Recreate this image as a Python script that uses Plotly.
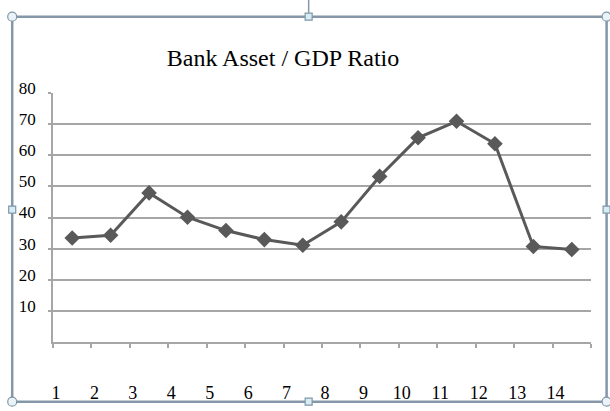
import plotly.graph_objects as go

# ---- data ----
periods = list(range(1, 15))
ratio = [33.4, 34.3, 47.9, 40.1, 35.8, 32.9, 31.1, 38.6, 53.2, 65.6, 70.9, 63.7, 30.7, 29.7]
x_labels = [str(p) for p in periods]
y_ticks = [10, 20, 30, 40, 50, 60, 70, 80]
title_text = "Bank Asset / GDP Ratio"

W, H = 610, 411
L, R, T, B = 53.3, 591.4, 93.3, 342.3

def px(x):
    return (x - L) / (R - L)

def py(y):
    return (B - y) / (B - T)

fig = go.Figure()
fig.add_trace(go.Scatter(
    x=periods, y=ratio, mode="lines+markers",
    line=dict(color="#595959", width=3),
    marker=dict(symbol="diamond", size=12, color="#595959"),
    showlegend=False, hoverinfo="skip",
))

serif = "Times New Roman"

fig.update_layout(
    width=W, height=H,
    font=dict(family=serif, color="black"),
    margin=dict(l=L, r=W - R, t=T, b=H - B, pad=0, autoexpand=False),
    paper_bgcolor="white", plot_bgcolor="white",
    title=dict(text=title_text, font=dict(family=serif, size=24, color="black"),
               xref="container", yref="container", x=283 / W, y=1 - 58 / H,
               xanchor="center", yanchor="middle"),
    xaxis=dict(
        range=[0.5, 14.5], automargin=False,
        tickmode="array",
        tickvals=[p - 0.5 for p in periods] + [14.5],
        ticktext=x_labels + [""],
        ticks="outside", ticklen=4, tickcolor="#a6a6a6", tickwidth=1.5,
        showline=True, linecolor="#a6a6a6", linewidth=1.5,
        showgrid=False, zeroline=False,
        tickfont=dict(family=serif, size=18, color="black"),
        ticklabelstandoff=30, ticklabelshift=3,
    ),
    yaxis=dict(
        range=[0, 80], automargin=False,
        tickmode="array", tickvals=y_ticks, ticktext=[str(v) for v in y_ticks],
        ticks="outside", ticklen=3, tickcolor="#a6a6a6", tickwidth=1.5,
        showline=True, linecolor="#a6a6a6", linewidth=1.5,
        showgrid=True, gridcolor="#a6a6a6", gridwidth=1.5,
        zeroline=False,
        tickfont=dict(family=serif, size=17, color="black"),
        ticklabelstandoff=9, ticklabelshift=-5,
    ),
)

# selection frame and handles (decoration)
frame_col = "#8597a8"
x0, x1, y0, y1 = 12.5, 607, 17, 402
shapes = [
    dict(type="rect", xref="paper", yref="paper", x0=px(x0), x1=px(x1), y0=py(y1), y1=py(y0),
         line=dict(color=frame_col, width=2.5), layer="above"),
    dict(type="line", xref="paper", yref="paper", x0=px(309), x1=px(309), y0=py(0), y1=py(13),
         line=dict(color=frame_col, width=1.5), layer="above"),
]
for cx, cy in [(x0, y0), (x1, y0), (x0, y1), (x1, y1)]:
    shapes.append(dict(type="circle", xref="paper", yref="paper",
                       x0=px(cx - 4.5), x1=px(cx + 4.5), y0=py(cy + 4.5), y1=py(cy - 4.5),
                       fillcolor="#eaf4f8", line=dict(color="#7f97a8", width=1.2), layer="above"))
for cx, cy in [(309, y0), (309, y1), (x0, 210), (x1, 210)]:
    shapes.append(dict(type="rect", xref="paper", yref="paper",
                       x0=px(cx - 3.5), x1=px(cx + 3.5), y0=py(cy + 3.5), y1=py(cy - 3.5),
                       fillcolor="#d8ecf4", line=dict(color="#7f97a8", width=1.2), layer="above"))
fig.update_layout(shapes=shapes)

fig.write_html("out.html")
